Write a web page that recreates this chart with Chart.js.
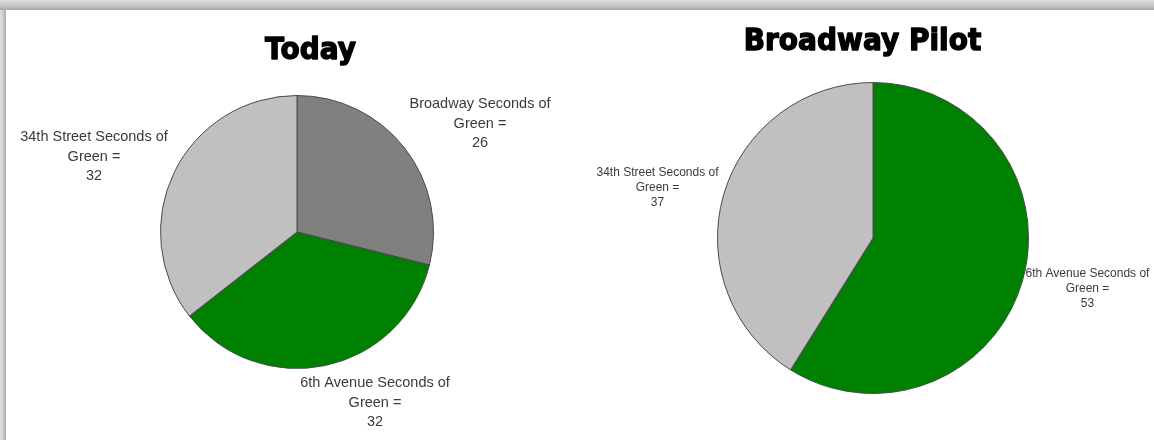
<!DOCTYPE html>
<html>
<head>
<meta charset="utf-8">
<script src="https://cdn.jsdelivr.net/npm/chart.js@4.4.1/dist/chart.umd.min.js"></script>
<style>
  html, body { margin: 0; padding: 0; background: #ffffff; }
  body { width: 1154px; height: 440px; position: relative; overflow: hidden; }
  #topShade { position: absolute; left: 0; top: 0; width: 1154px; height: 10px;
    background: linear-gradient(to bottom, #dedede 0%, #c4c4c4 60%, #a8a8a8 100%); }
  #leftShade { position: absolute; left: 0; top: 10px; width: 6px; height: 430px;
    background: linear-gradient(to right, #e2e2e2 0%, #c8c8c8 60%, #a6a6a6 100%); }
  canvas { position: absolute; top: 0; }
  #c1 { left: 0; }
  #c2 { left: 577px; }
</style>
</head>
<body>
<div id="topShade"></div>
<div id="leftShade"></div>
<canvas id="c1" width="577" height="440"></canvas>
<canvas id="c2" width="577" height="440"></canvas>
<script>
// ---- data ----
const todayTitle = 'Today';
const todayCategories = ['Broadway', '6th Avenue', '34th Street'];
const todayValues = [26, 32, 32];
const todayColors = ['#808080', '#008000', '#c0c0c0'];

const pilotTitle = 'Broadway Pilot';
const pilotCategories = ['6th Avenue', '34th Street'];
const pilotValues = [53, 37];
const pilotColors = ['#008000', '#c0c0c0'];

// ---- label / title plugin ----
const pieText = {
  id: 'pieText',
  afterDraw(chart, args, opts) {
    const ctx = chart.ctx;
    const meta = chart.getDatasetMeta(0);
    const arc0 = meta.data[0];
    const cx = arc0.x, cy = arc0.y;
    const cats = chart.data.labels;
    const vals = chart.data.datasets[0].data;
    ctx.save();
    // title
    ctx.fillStyle = '#000000';
    ctx.strokeStyle = '#000000';
    ctx.lineWidth = 1.3;
    ctx.lineJoin = 'round';
    ctx.font = 'bold ' + opts.titleSize + 'px "DejaVu Sans", sans-serif';
    ctx.textAlign = 'center';
    ctx.textBaseline = 'alphabetic';
    ctx.save();
    ctx.translate(opts.titleX, opts.titleY);
    ctx.scale(1, 1.1);
    ctx.fillText(opts.title, 0, 0);
    ctx.strokeText(opts.title, 0, 0);
    ctx.restore();
    // data labels
    ctx.fillStyle = '#3a3a3a';
    ctx.font = opts.labelSize + 'px "Liberation Sans", Arial, sans-serif';
    ctx.textBaseline = 'middle';
    cats.forEach((cat, i) => {
      const off = opts.offsets[i];
      const lines = [cat + ' Seconds of', 'Green =', String(vals[i])];
      lines.forEach((ln, k) => {
        ctx.fillText(ln, cx + off[0], cy + off[1] + k * opts.lineHeight);
      });
    });
    ctx.restore();
  }
};

function makePie(id, categories, values, colors, padding, textOpts) {
  return new Chart(document.getElementById(id), {
    type: 'pie',
    data: {
      labels: categories,
      datasets: [{
        data: values,
        backgroundColor: colors,
        borderColor: '#4a4a4a',
        borderWidth: 1
      }]
    },
    options: {
      responsive: false,
      animation: false,
      devicePixelRatio: 1,
      layout: { padding: padding },
      plugins: {
        legend: { display: false },
        tooltip: { enabled: false },
        title: { display: false },
        pieText: textOpts
      }
    },
    plugins: [pieText]
  });
}

makePie('c1', todayCategories, todayValues, todayColors,
  { left: 160, top: 95, right: 143, bottom: 71 },
  { title: todayTitle, titleX: 310.5, titleY: 59, titleSize: 28,
    labelSize: 14.5, lineHeight: 19.5,
    offsets: [[183, -128], [78, 151], [-203, -95]] });

makePie('c2', pilotCategories, pilotValues, pilotColors,
  { left: 140, top: 82, right: 125, bottom: 46 },
  { title: pilotTitle, titleX: 285.5, titleY: 50, titleSize: 28,
    labelSize: 12, lineHeight: 14.7,
    offsets: [[214.5, 36], [-215.5, -65]] });
</script>
</body>
</html>
